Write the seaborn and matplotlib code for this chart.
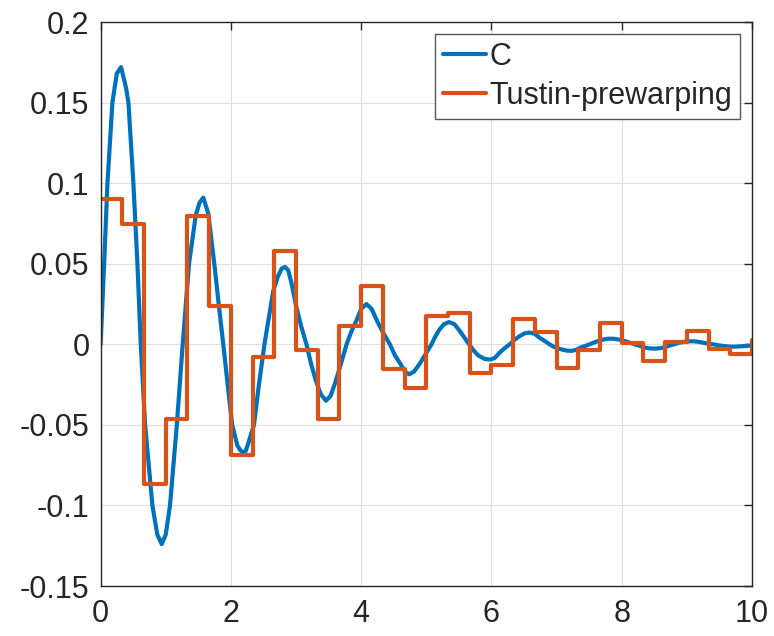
import numpy as np
import pandas as pd
import matplotlib
matplotlib.use("Agg")
import matplotlib.pyplot as plt
import seaborn as sns

# continuous response C
t_c = [0, 0.054, 0.105, 0.181, 0.248, 0.314, 0.391, 0.427, 0.503, 0.565,
       0.616, 0.683, 0.795, 0.87, 0.938, 1.0, 1.065, 1.17, 1.26, 1.357,
       1.46, 1.52, 1.577, 1.653, 1.745, 1.81, 1.883, 1.95, 2.02, 2.1,
       2.15, 2.19, 2.23, 2.27, 2.354, 2.43, 2.515, 2.58, 2.65, 2.72,
       2.78, 2.83, 2.88, 2.93, 3.0, 3.08, 3.16, 3.23, 3.3, 3.38,
       3.46, 3.53, 3.6, 3.69, 3.776, 3.85, 3.93, 4.0, 4.08, 4.16,
       4.25, 4.34, 4.44, 4.52, 4.6, 4.67, 4.736, 4.81, 4.9, 4.99,
       5.08, 5.14, 5.2, 5.27, 5.35, 5.43, 5.5, 5.58, 5.656, 5.73,
       5.8, 5.89, 5.974, 6.05, 6.13, 6.2, 6.28, 6.36, 6.43, 6.51,
       6.587, 6.66, 6.74, 6.82, 6.89, 6.97, 7.06, 7.15, 7.227, 7.3,
       7.37, 7.44, 7.51, 7.6, 7.69, 7.78, 7.865, 7.95, 8.05, 8.12,
       8.2, 8.28, 8.35, 8.42, 8.5, 8.58, 8.65, 8.72, 8.8, 8.88,
       8.95, 9.02, 9.09, 9.17, 9.25, 9.32, 9.4, 9.48, 9.55, 9.64,
       9.73, 9.85, 10.0]
v_c = [0, 0.05, 0.10, 0.15, 0.168, 0.172, 0.159, 0.15, 0.10, 0.05,
       0.0, -0.05, -0.10, -0.118, -0.124, -0.118, -0.10, -0.05, 0.0, 0.05,
       0.08, 0.088, 0.091, 0.081, 0.05, 0.026, 0.0, -0.025, -0.05, -0.063,
       -0.066, -0.067, -0.066, -0.061, -0.05, -0.025, 0.0, 0.016, 0.033, 0.042,
       0.047, 0.048, 0.046, 0.038, 0.024, 0.011, 0.0, -0.012, -0.022, -0.031,
       -0.035, -0.032, -0.024, -0.012, 0.0, 0.008, 0.015, 0.022, 0.025, 0.022,
       0.014, 0.007, 0.0, -0.007, -0.012, -0.017, -0.0186, -0.017, -0.012, -0.006,
       0.0, 0.005, 0.009, 0.0125, 0.0138, 0.0125, 0.009, 0.0045, 0.0, -0.004,
       -0.007, -0.009, -0.0095, -0.0085, -0.005, -0.0025, 0.0, 0.003, 0.005, 0.0068,
       0.0073, 0.0066, 0.004, 0.002, 0.0, -0.0018, -0.003, -0.0039, -0.0041, -0.0035,
       -0.002, -0.001, 0.0, 0.0015, 0.0027, 0.0034, 0.0035, 0.003, 0.002, 0.001,
       0.0, -0.001, -0.002, -0.0025, -0.0027, -0.0025, -0.002, -0.001, 0.0, 0.001,
       0.0015, 0.0018, 0.0019, 0.0016, 0.001, 0.0005, 0.0, -0.0006, -0.001, -0.0014,
       -0.0015, -0.0012, -0.0008]

# discrete Tustin-prewarping samples, Ts = 1/3
t_d = [i / 3 for i in range(31)]
v_d = [0.090, 0.0748, -0.087, -0.0465, 0.0794, 0.0236, -0.069, -0.0079,
       0.0577, -0.0037, -0.0463, 0.0113, 0.036, -0.0155, -0.0269, 0.0175,
       0.0194, -0.0176, -0.0128, 0.0159, 0.0076, -0.0147, -0.0033, 0.013,
       0.0008, -0.0101, 0.0012, 0.0082, -0.0027, -0.0062, 0.0025]

x_ticks = [0, 2, 4, 6, 8, 10]
y_ticks = [-0.15, -0.1, -0.05, 0, 0.05, 0.1, 0.15, 0.2]

sns.set_style("white")
plt.rcParams['font.family'] = ['Liberation Sans', 'DejaVu Sans']
plt.rcParams['axes.unicode_minus'] = False

df_c = pd.DataFrame({"t": t_c, "y": v_c})
df_d = pd.DataFrame({"t": t_d, "y": v_d})

fig = plt.figure(figsize=(7.74, 6.36), dpi=100)
ax = fig.add_axes([0.13, 0.0786, 0.8416, 0.8868])

sns.lineplot(data=df_c, x="t", y="y", ax=ax, color="#0072BD", linewidth=3, label="C")
sns.lineplot(data=df_d, x="t", y="y", ax=ax, color="#D95319", linewidth=3,
             drawstyle="steps-post", label="Tustin-prewarping")

ax.set_xlim(0, 10)
ax.set_ylim(-0.15, 0.2)
ax.set_xticks(x_ticks)
ax.set_yticks(y_ticks)
ax.set_xticklabels(["%g" % v for v in x_ticks])
ax.set_yticklabels(["%g" % v for v in y_ticks])
ax.set_xlabel("")
ax.set_ylabel("")
ax.grid(True, color="#dfdfdf", linewidth=0.8)
ax.set_axisbelow(True)
for s in ax.spines.values():
    s.set_color("#262626")
    s.set_linewidth(1.0)
ax.tick_params(direction="in", length=6, width=1, colors="#262626",
               labelsize=22, top=True, right=True, pad=8)
ax.tick_params(axis="x", pad=9)

leg = ax.legend(loc="upper right", fontsize=22, handlelength=1.4, handletextpad=0.12,
                borderpad=0.25, labelspacing=0.3, fancybox=False, framealpha=1,
                edgecolor="#555555", borderaxespad=0.4)
leg.get_frame().set_linewidth(1.0)

fig.savefig("out.png", dpi=100)
